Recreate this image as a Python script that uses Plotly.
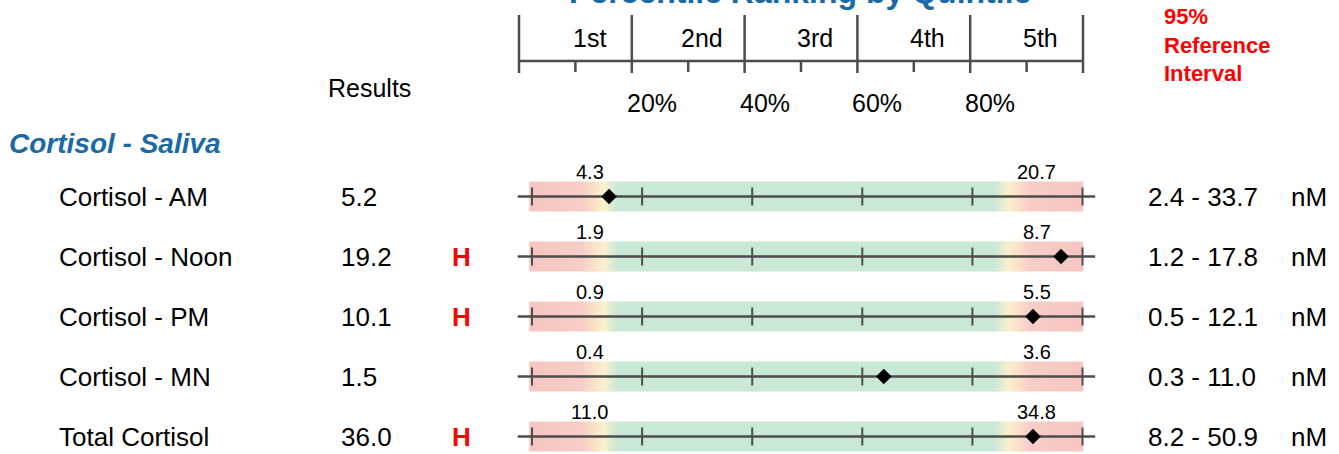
import numpy as np
import plotly.graph_objects as go

# ---------------- data ----------------
categories = ["Cortisol - AM", "Cortisol - Noon", "Cortisol - PM", "Cortisol - MN", "Total Cortisol"]
results = [5.2, 19.2, 10.1, 1.5, 36.0]
flags = ["", "H", "H", "", "H"]
percentile = [14.0, 96.1, 91.0, 63.9, 91.0]
low_marks = ["4.3", "1.9", "0.9", "0.4", "11.0"]
high_marks = ["20.7", "8.7", "5.5", "3.6", "34.8"]
ref_low = [2.4, 1.2, 0.5, 0.3, 8.2]
ref_high = [33.7, 17.8, 12.1, 11.0, 50.9]
units = ["nM", "nM", "nM", "nM", "nM"]
quintile_labels = ["1st", "2nd", "3rd", "4th", "5th"]
quintile_edges = [0, 20, 40, 60, 80, 100]
pct_ticks = [20, 40, 60, 80]
section_title = "Cortisol - Saliva"
chart_title = "Percentile Ranking by Quintile"

# ---------------- layout constants ----------------
W, H = 1339, 454
FONT = "Liberation Sans, Arial, sans-serif"
BLUE = "#1a6aa5"
RED = "#ff0000"
LINE = "#4d4d4d"
ROW0, ROWGAP = 196.5, 60
row_y = [ROW0 + ROWGAP * i for i in range(len(categories))]

# row scale occupies 532..1082.5 px; header scale occupies 519..1083 px
ROW_L, ROW_R = 532.0, 1082.5
HDR_L, HDR_R = 519.0, 1083.0
ROW_PPU = (ROW_R - ROW_L) / 100.0
DOM_L, DOM_R = 505.0, 1105.0   # plotting area wider than the scale, so nothing is clipped


def px(x):
    return x / W


def hdr(p):
    """header percentile -> row-axis units"""
    return (HDR_L - ROW_L) / ROW_PPU + p * (HDR_R - HDR_L) / (ROW_R - ROW_L)


fig = go.Figure()

# gradient bands (heatmap bricks)
band_colorscale = [
    [0.0, "#f6c6c2"], [0.09, "#f8cdc8"], [0.13, "#fcf0cb"], [0.155, "#c9e8d6"],
    [0.84, "#c9e8d6"], [0.865, "#fcf0cb"], [0.905, "#f8cdc8"], [1.0, "#f6c6c2"],
]
edges = np.linspace(-0.5, 100.1, 302)
mids = ((edges[:-1] + edges[1:]) / 2).tolist()
edges = edges.tolist()
for yc in row_y:
    fig.add_trace(go.Heatmap(
        x=edges, y=[yc - 15, yc + 15], z=[mids], zmin=0, zmax=100,
        colorscale=band_colorscale, showscale=False, hoverinfo="skip",
    ))

# horizontal row lines
lx, ly = [], []
for yc in row_y:
    lx += [-2.6, 102.3, None]
    ly += [yc, yc, None]
fig.add_trace(go.Scatter(x=lx, y=ly, mode="lines", line=dict(color=LINE, width=2.5),
                         hoverinfo="skip", showlegend=False))
# row ticks
tx, ty = [], []
for yc in row_y:
    for t in quintile_edges:
        tx += [t, t, None]
        ty += [yc - 9, yc + 9, None]
fig.add_trace(go.Scatter(x=tx, y=ty, mode="lines", line=dict(color=LINE, width=2),
                         hoverinfo="skip", showlegend=False))
# diamonds
fig.add_trace(go.Scatter(x=percentile, y=row_y, mode="markers",
                         marker=dict(symbol="diamond", size=12, color="black"),
                         hoverinfo="skip", showlegend=False, cliponaxis=False))

# header scale
HDR_LINE_Y = 61
hx, hy = [], []
for e in quintile_edges:
    hx += [hdr(e), hdr(e), None]
    hy += [15, 73, None]
hx += [hdr(0), hdr(100), None]
hy += [HDR_LINE_Y, HDR_LINE_Y, None]
for a, b in zip(quintile_edges[:-1], quintile_edges[1:]):
    m = hdr((a + b) / 2)
    hx += [m, m, None]
    hy += [HDR_LINE_Y, 72, None]
fig.add_trace(go.Scatter(x=hx, y=hy, mode="lines", line=dict(color=LINE, width=2.5),
                         hoverinfo="skip", showlegend=False))

ann = []
# title (partially cut at top)
ann.append(dict(x=px(800), y=1 + 8 / H, xref="paper", yref="paper", text="<b>" + chart_title + "</b>",
                showarrow=False, xanchor="center", yanchor="middle",
                font=dict(family=FONT, size=32, color=BLUE)))
# quintile labels
for a, b, lab in zip(quintile_edges[:-1], quintile_edges[1:], quintile_labels):
    ann.append(dict(x=hdr((a + b) / 2), y=38, xref="x", yref="y", text=lab, showarrow=False,
                    xshift=14, xanchor="center", yanchor="middle",
                    font=dict(family=FONT, size=25, color="black")))
for t in pct_ticks:
    ann.append(dict(x=hdr(t), y=103, xref="x", yref="y", text=f"{t}%", showarrow=False,
                    xshift=20, xanchor="center", yanchor="middle",
                    font=dict(family=FONT, size=25, color="black")))
# Reference interval header
ann.append(dict(x=px(1162), y=45, xref="paper", yref="y",
                text="<b>95%<br>Reference<br>Interval</b>", showarrow=False,
                xanchor="left", yanchor="middle", align="left",
                font=dict(family=FONT, size=22, color=RED)))
# Results header
ann.append(dict(x=px(369), y=88, xref="paper", yref="y", text="Results", showarrow=False,
                xanchor="center", yanchor="middle", font=dict(family=FONT, size=25, color="black")))
# section
ann.append(dict(x=px(7), y=143, xref="paper", yref="y", text="<b><i>" + section_title + "</i></b>",
                showarrow=False, xanchor="left", yanchor="middle",
                font=dict(family=FONT, size=28, color=BLUE)))

for i, yc in enumerate(row_y):
    ann.append(dict(x=px(57), y=yc, xref="paper", yref="y", text=categories[i], showarrow=False,
                    xanchor="left", yanchor="middle", font=dict(family=FONT, size=26, color="black")))
    ann.append(dict(x=px(339), y=yc, xref="paper", yref="y", text=f"{results[i]:.1f}", showarrow=False,
                    xanchor="left", yanchor="middle", font=dict(family=FONT, size=26, color="black")))
    if flags[i]:
        ann.append(dict(x=px(461), y=yc, xref="paper", yref="y", text="<b>" + flags[i] + "</b>",
                        showarrow=False, xanchor="center", yanchor="middle",
                        font=dict(family=FONT, size=26, color=RED)))
    ann.append(dict(x=10.5, y=yc - 24.5, xref="x", yref="y", text=low_marks[i], showarrow=False,
                    xanchor="center", yanchor="middle", font=dict(family=FONT, size=20, color="black")))
    ann.append(dict(x=91.7, y=yc - 24.5, xref="x", yref="y", text=high_marks[i], showarrow=False,
                    xanchor="center", yanchor="middle", font=dict(family=FONT, size=20, color="black")))
    ann.append(dict(x=px(1146), y=yc, xref="paper", yref="y",
                    text=f"{ref_low[i]:.1f} - {ref_high[i]:.1f}", showarrow=False,
                    xanchor="left", yanchor="middle", font=dict(family=FONT, size=26, color="black")))
    ann.append(dict(x=px(1289), y=yc, xref="paper", yref="y", text=units[i], showarrow=False,
                    xanchor="left", yanchor="middle", font=dict(family=FONT, size=26, color="black")))

fig.update_layout(
    width=W, height=H, autosize=False,
    margin=dict(l=0, r=0, t=0, b=0, pad=0),
    paper_bgcolor="white", plot_bgcolor="white",
    showlegend=False,
    xaxis=dict(domain=[px(DOM_L), px(DOM_R)],
               range=[(DOM_L - ROW_L) / ROW_PPU, 100 + (DOM_R - ROW_R) / ROW_PPU],
               visible=False, fixedrange=True),
    yaxis=dict(domain=[0, 1], range=[H, 0], visible=False, fixedrange=True),
    annotations=ann,
)

fig.write_html("out.html", config={"displayModeBar": False, "staticPlot": True},
               post_script="document.body.style.margin='0px';")
